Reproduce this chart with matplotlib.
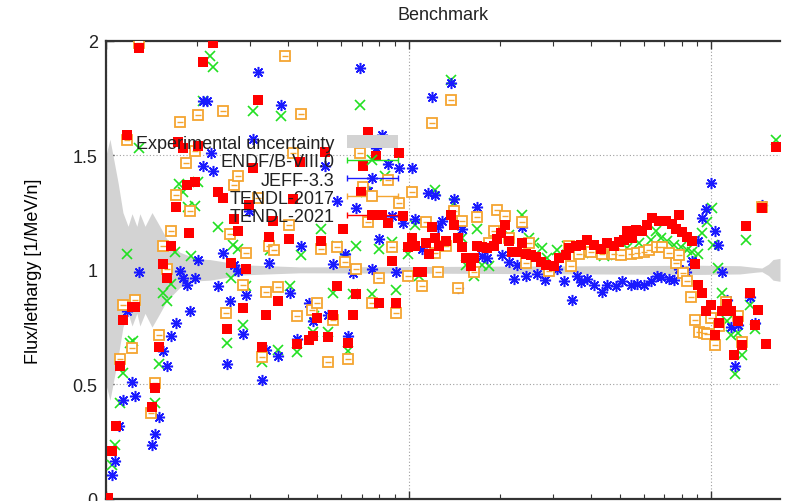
import numpy as np
import matplotlib
matplotlib.use("Agg")
import matplotlib.pyplot as plt
from matplotlib.ticker import FormatStrFormatter, LogLocator, NullFormatter
from matplotlib.container import ErrorbarContainer
from matplotlib.legend_handler import HandlerErrorbar
from matplotlib.collections import LineCollection
from matplotlib.lines import Line2D
from matplotlib.patches import Patch

plt.rcParams['font.family'] = ['Liberation Sans', 'DejaVu Sans']
plt.rcParams['text.color'] = '#222222'

# energies are stored as log10(E / MeV), values as flux/lethargy ratio

# experimental uncertainty band (half width around 1)
band_lg = [-1.0, -0.987, -0.977, -0.960, -0.944, -0.927, -0.914, -0.898, -0.888, -0.871,
           -0.848, -0.822, -0.799, -0.756, -0.700, -0.657, -0.548, -0.360, -0.030, 0.30,
           0.63, 0.96, 1.095, 1.150, 1.168, 1.190, 1.205, 1.228]
band_half = [0.50, 0.57, 0.50, 0.38, 0.25, 0.19, 0.245, 0.19, 0.245, 0.19,
             0.25, 0.19, 0.135, 0.077, 0.048, 0.045, 0.022, 0.013, 0.014, 0.016,
             0.018, 0.02, 0.018, 0.010, 0.008, 0.025, 0.045, 0.05]

# ENDF/B-VIII.0
endf_lg = [-0.980, -0.970, -0.954, -0.944, -0.931, -0.921, -0.911, -0.891, -0.838, -0.825,
           -0.812, -0.799, -0.785, -0.772, -0.759, -0.746, -0.729, -0.719, -0.706, -0.696,
           -0.680, -0.657, -0.647, -0.630, -0.601, -0.587, -0.581, -0.564, -0.548, -0.538,
           -0.515, -0.485, -0.459, -0.432, -0.422, -0.393, -0.370, -0.356, -0.317, -0.314,
           -0.290, -0.267, -0.251, -0.238, -0.211, -0.201, -0.185, -0.172, -0.162, -0.139,
           -0.122, -0.096, -0.079, -0.056, -0.043, -0.003, 0.023, 0.036, 0.086, 0.142,
           0.152, 0.178, 0.191, 0.218, 0.228, 0.244, 0.267, 0.333, 0.376, 0.399,
           0.416, 0.442, 0.459, 0.492, 0.525, 0.571, 0.607, 0.647, 0.686, 0.723,
           0.762, 0.802, 0.818, 0.835, 0.855, 0.878, 0.901, 0.921, 0.937, 0.957,
           0.970, 0.987, 1.003, 1.007, 1.023, 1.036, 1.053, 1.066, 1.079, 1.089,
           1.102, 1.116, 1.129, 1.145, 1.215]
endf_val = [0.15, 0.235, 0.42, 0.55, 1.07, 0.68, 0.69, 1.53, 0.42, 0.59,
            0.90, 0.865, 0.94, 1.08, 1.375, 1.34, 1.275, 1.06, 1.28, 1.385,
            1.735, 1.935, 1.885, 1.185, 0.68, 0.965, 1.11, 1.09, 0.76, 0.93,
            1.695, 0.60, 1.085, 0.65, 1.67, 0.93, 0.64, 1.065, 0.73, 0.80,
            1.18, 0.73, 0.90, 1.105, 1.05, 0.645, 0.895, 1.105, 1.72, 1.34,
            0.895, 1.09, 1.41, 1.12, 0.91, 1.07, 1.195, 0.975, 1.35, 1.83,
            1.29, 1.14, 1.02, 0.975, 1.18, 1.02, 1.015, 1.15, 1.24, 1.14,
            1.115, 1.095, 1.05, 1.085, 1.105, 1.08, 1.075, 1.06, 1.063, 1.095,
            1.115, 1.13, 1.17, 1.14, 1.125, 1.11, 1.10, 1.085, 1.08, 1.07,
            1.16, 1.21, 1.27, 1.11, 1.01, 0.90, 0.775, 0.715, 0.545, 0.725,
            0.63, 1.13, 0.845, 0.74, 1.565]

# JEFF-3.3
jeff_lg = [-0.980, -0.970, -0.957, -0.944, -0.931, -0.914, -0.904, -0.891, -0.848, -0.838,
           -0.825, -0.812, -0.799, -0.785, -0.769, -0.756, -0.746, -0.733, -0.723, -0.706,
           -0.696, -0.680, -0.680, -0.667, -0.653, -0.647, -0.630, -0.614, -0.601, -0.591,
           -0.578, -0.564, -0.548, -0.538, -0.528, -0.515, -0.498, -0.485, -0.472, -0.462,
           -0.432, -0.422, -0.393, -0.370, -0.356, -0.330, -0.317, -0.277, -0.267, -0.251,
           -0.238, -0.211, -0.201, -0.185, -0.172, -0.162, -0.135, -0.122, -0.109, -0.096,
           -0.086, -0.069, -0.056, -0.043, -0.030, -0.017, 0.010, 0.023, 0.046, 0.063,
           0.076, 0.086, 0.099, 0.112, 0.142, 0.152, 0.165, 0.178, 0.228, 0.244,
           0.261, 0.310, 0.333, 0.350, 0.360, 0.376, 0.389, 0.426, 0.452, 0.492,
           0.515, 0.541, 0.558, 0.571, 0.591, 0.614, 0.640, 0.657, 0.686, 0.706,
           0.736, 0.756, 0.779, 0.802, 0.822, 0.835, 0.861, 0.878, 0.894, 0.917,
           0.937, 0.957, 0.970, 0.983, 1.000, 1.013, 1.023, 1.036, 1.053, 1.066,
           1.079, 1.089, 1.129, 1.145, 1.168]
jeff_val = [0.105, 0.165, 0.32, 0.43, 0.82, 0.51, 0.45, 0.99, 0.235, 0.285,
            0.36, 0.645, 0.58, 0.71, 0.77, 0.995, 0.965, 0.935, 0.82, 0.965,
            1.045, 1.735, 1.455, 1.735, 1.51, 1.43, 0.93, 1.075, 0.59, 0.865,
            1.02, 0.995, 0.72, 0.89, 1.255, 1.57, 1.865, 0.52, 0.65, 1.03,
            0.625, 1.72, 0.90, 0.70, 1.105, 0.855, 0.775, 1.455, 0.805, 1.025,
            1.30, 1.07, 0.71, 0.985, 1.27, 1.88, 1.345, 1.005, 1.53, 1.135,
            1.59, 1.46, 1.235, 0.99, 1.445, 1.205, 1.445, 1.22, 1.09, 1.335,
            1.755, 1.325, 1.185, 1.215, 1.815, 1.31, 0.92, 1.18, 1.275, 1.06,
            1.05, 1.065, 1.035, 0.96, 1.02, 1.185, 0.975, 0.98, 0.955, 1.005,
            0.95, 0.87, 0.975, 0.945, 0.96, 0.935, 0.905, 0.935, 0.93, 0.95,
            0.935, 0.94, 0.935, 0.95, 0.975, 0.97, 0.96, 0.955, 1.005, 0.99,
            1.04, 1.125, 1.225, 1.265, 1.38, 1.17, 1.11, 0.99, 0.87, 0.75,
            0.58, 0.76, 0.88, 0.77, 1.285]

# TENDL-2017
t17_lg = [-0.954, -0.944, -0.931, -0.914, -0.904, -0.891, -0.851, -0.838, -0.825, -0.812,
          -0.799, -0.785, -0.769, -0.756, -0.736, -0.723, -0.706, -0.696, -0.614, -0.604,
          -0.591, -0.578, -0.564, -0.548, -0.538, -0.498, -0.485, -0.472, -0.462, -0.446,
          -0.432, -0.409, -0.396, -0.383, -0.370, -0.356, -0.320, -0.304, -0.290, -0.267,
          -0.251, -0.238, -0.211, -0.201, -0.172, -0.162, -0.152, -0.135, -0.122, -0.096,
          -0.069, -0.056, -0.043, -0.030, -0.003, 0.010, 0.043, 0.059, 0.076, 0.089,
          0.099, 0.125, 0.142, 0.152, 0.165, 0.178, 0.218, 0.228, 0.267, 0.284,
          0.294, 0.320, 0.333, 0.376, 0.389, 0.399, 0.465, 0.531, 0.538, 0.564,
          0.604, 0.640, 0.680, 0.703, 0.736, 0.756, 0.779, 0.795, 0.822, 0.838,
          0.861, 0.884, 0.894, 0.908, 0.921, 0.934, 0.947, 0.960, 0.977, 0.987,
          1.000, 1.013, 1.026, 1.050, 1.089, 1.102, 1.168]
t17_val = [0.61, 0.845, 1.565, 0.66, 0.87, 1.99, 0.375, 0.505, 0.715, 1.105,
           1.005, 1.17, 1.325, 1.645, 1.465, 1.255, 1.52, 1.675, 1.695, 0.81,
           1.155, 1.37, 1.41, 0.935, 1.075, 1.315, 0.62, 0.905, 1.105, 1.085,
           0.925, 1.935, 1.195, 1.51, 0.80, 1.68, 0.825, 0.855, 1.09, 0.60,
           0.78, 1.10, 1.035, 0.61, 1.005, 1.51, 1.36, 1.21, 0.855, 0.965,
           1.39, 1.10, 0.81, 1.29, 0.975, 1.34, 0.93, 1.21, 1.64, 1.075,
           0.99, 1.105, 1.74, 1.255, 0.92, 1.215, 0.99, 1.23, 1.115, 1.17,
           1.26, 1.235, 1.14, 1.21, 1.03, 1.115, 0.997, 1.105, 1.015, 1.07,
           1.08, 1.07, 1.067, 1.065, 1.07, 1.075, 1.08, 1.085, 1.10, 1.10,
           1.075, 1.03, 1.065, 0.985, 0.95, 0.88, 0.78, 0.73, 0.725, 0.72,
           0.79, 0.67, 0.755, 0.86, 0.80, 0.685, 1.275]

# TENDL-2021
t21_lg = [-0.993, -0.980, -0.967, -0.954, -0.944, -0.931, -0.914, -0.904, -0.891, -0.848,
          -0.838, -0.825, -0.812, -0.799, -0.785, -0.769, -0.762, -0.746, -0.733, -0.726,
          -0.706, -0.696, -0.680, -0.647, -0.630, -0.614, -0.601, -0.587, -0.578, -0.564,
          -0.548, -0.538, -0.528, -0.515, -0.498, -0.485, -0.472, -0.462, -0.449, -0.432,
          -0.396, -0.383, -0.370, -0.360, -0.330, -0.317, -0.304, -0.290, -0.277, -0.267,
          -0.251, -0.238, -0.215, -0.201, -0.185, -0.172, -0.158, -0.149, -0.135, -0.109,
          -0.096, -0.086, -0.069, -0.056, -0.043, -0.030, -0.017, -0.003, 0.010, 0.023,
          0.033, 0.046, 0.059, 0.069, 0.076, 0.086, 0.102, 0.125, 0.139, 0.152,
          0.165, 0.178, 0.191, 0.205, 0.218, 0.228, 0.244, 0.261, 0.281, 0.294,
          0.307, 0.320, 0.333, 0.343, 0.360, 0.376, 0.389, 0.406, 0.422, 0.439,
          0.455, 0.482, 0.498, 0.521, 0.531, 0.554, 0.571, 0.591, 0.614, 0.637,
          0.657, 0.680, 0.696, 0.713, 0.723, 0.739, 0.752, 0.772, 0.789, 0.805,
          0.828, 0.851, 0.871, 0.884, 0.894, 0.904, 0.921, 0.937, 0.947, 0.957,
          0.970, 0.983, 1.000, 1.013, 1.026, 1.036, 1.053, 1.066, 1.076, 1.089,
          1.102, 1.116, 1.129, 1.145, 1.155, 1.168, 1.182, 1.215]
t21_val = [0.005, 0.21, 0.32, 0.58, 0.78, 1.59, 0.84, 0.84, 1.97, 0.40,
           0.485, 0.665, 1.025, 0.965, 1.105, 1.275, 1.56, 1.53, 1.37, 1.16,
           1.385, 1.54, 1.905, 1.99, 1.34, 1.315, 0.74, 1.03, 1.22, 1.17,
           0.835, 1.005, 1.285, 1.445, 1.74, 0.665, 0.805, 1.145, 1.215, 0.865,
           1.135, 1.31, 0.675, 1.47, 0.695, 0.71, 0.79, 1.125, 1.515, 0.705,
           0.805, 0.93, 1.18, 0.68, 0.805, 0.895, 1.34, 1.455, 1.60, 1.495,
           0.855, 1.24, 1.205, 1.04, 0.855, 1.51, 1.235, 1.10, 1.14, 1.105,
           0.99, 0.99, 1.115, 1.07, 1.185, 1.14, 1.105, 1.125, 1.24, 1.195,
           1.14, 1.10, 1.05, 1.015, 1.05, 1.105, 1.10, 1.095, 1.105, 1.135,
           1.16, 1.195, 1.125, 1.08, 1.08, 1.115, 1.07, 1.065, 1.055, 1.035,
           1.02, 1.015, 1.05, 1.063, 1.095, 1.105, 1.11, 1.13, 1.11, 1.09,
           1.115, 1.105, 1.12, 1.13, 1.17, 1.14, 1.175, 1.17, 1.195, 1.225,
           1.215, 1.215, 1.20, 1.18, 1.24, 1.165, 1.145, 1.125, 1.025, 0.935,
           0.90, 0.82, 0.845, 0.715, 0.77, 0.82, 0.85, 0.82, 0.63, 0.775,
           0.67, 1.19, 0.90, 0.76, 0.825, 1.27, 0.675, 1.535]

GREEN = '#22e022'
BLUE = '#1a1aff'
ORANGE = '#f5a530'
RED = '#ff0000'
GRAY = '#d3d3d3'
DARK = '#333333'

fig = plt.figure(figsize=(7.85, 5.02), dpi=100)
ax = fig.add_axes([106 / 785, 2 / 502, 674 / 785, 458.3 / 502])

E = lambda lg: 10 ** np.asarray(lg)

ax.fill_between(E(band_lg), 1 - np.asarray(band_half), 1 + np.asarray(band_half),
                color=GRAY, lw=0, zorder=1)

ax.plot(E(endf_lg), endf_val, ls='none', marker='x', ms=6.5, mew=1.2, color=GREEN, zorder=3)
ax.plot(E(jeff_lg), jeff_val, ls='none', marker=(8, 2, 0), ms=8, mew=1.1, color=BLUE, zorder=4)
ax.plot(E(t17_lg), t17_val, ls='none', marker='s', ms=6.5, mfc='white', mec=ORANGE, mew=1.3, zorder=5)
ax.plot(E(t17_lg), t17_val, ls='none', marker='_', ms=4.5, mew=1.0, color=ORANGE, zorder=5)
ax.plot(E(t21_lg), t21_val, ls='none', marker='s', ms=6.8, mew=0, color=RED, zorder=6)

ax.set_xscale('log')
ax.set_xlim(0.1, 10 ** 1.228)
ax.set_ylim(0, 2)
ax.set_yticks([0, 0.5, 1, 1.5, 2])
ax.yaxis.set_major_formatter(FormatStrFormatter('%g'))
ax.xaxis.set_minor_locator(LogLocator(base=10, subs=np.arange(2, 10)))
ax.xaxis.set_minor_formatter(NullFormatter())

ax.grid(True, which='major', ls=(0, (1, 2)), color='#a0a0a0', lw=0.8, zorder=0)
ax.set_axisbelow(True)

for side in ['left', 'top', 'bottom']:
    ax.spines[side].set_linewidth(1.6)
    ax.spines[side].set_color(DARK)
ax.spines['right'].set_visible(False)
ax.tick_params(which='both', direction='in', top=True, right=False, color=DARK,
               labelsize=13, labelcolor='#222222', pad=6)
# x tick labels fall below the visible canvas in the reference
ax.tick_params(axis='x', labelbottom=False)
ax.tick_params(which='major', length=6, width=1)
ax.tick_params(which='minor', length=3.5, width=0.8)

ax.set_title('Benchmark', fontsize=13, pad=15.5)
ax.set_ylabel('Flux/lethargy [1/MeV/n]', fontsize=13)
ax.yaxis.set_label_coords(-0.095, 0.5)


def err_handle(color, label, **mk):
    body = Line2D([], [], ls='none', color=color, **mk)
    cap = Line2D([], [], ls='none', marker='|', ms=5, mew=1, color=color)
    bar = LineCollection([], colors=color, linewidths=1)
    return ErrorbarContainer((body, (cap,), (bar,)), has_xerr=True, has_yerr=False, label=label)


handles = [
    Patch(facecolor=GRAY, lw=0),
    err_handle(GREEN, 'ENDF/B-VIII.0', marker='x', ms=6.5, mew=1.2),
    err_handle(BLUE, 'JEFF-3.3', marker=(8, 2, 0), ms=8, mew=1.1),
    err_handle(ORANGE, 'TENDL-2017', marker='s', ms=6.5, mfc='white', mec=ORANGE, mew=1.3),
    err_handle(RED, 'TENDL-2021', marker='s', ms=6.8, mew=0),
]
labels = ['Experimental uncertainty', 'ENDF/B-VIII.0', 'JEFF-3.3', 'TENDL-2017', 'TENDL-2021']
hlen = 2.85
leg = ax.legend(handles, labels, loc='upper right', bbox_to_anchor=(398 / 785, 1 - 136 / 502),
                bbox_transform=fig.transFigure, frameon=False, markerfirst=False,
                fontsize=13, handlelength=hlen, handletextpad=0.65, labelspacing=0.07,
                borderpad=0, borderaxespad=0, numpoints=1,
                handler_map={ErrorbarContainer: HandlerErrorbar(xerr_size=hlen / 2)})
leg.set_zorder(7)

fig.savefig('out.png', dpi=100)
